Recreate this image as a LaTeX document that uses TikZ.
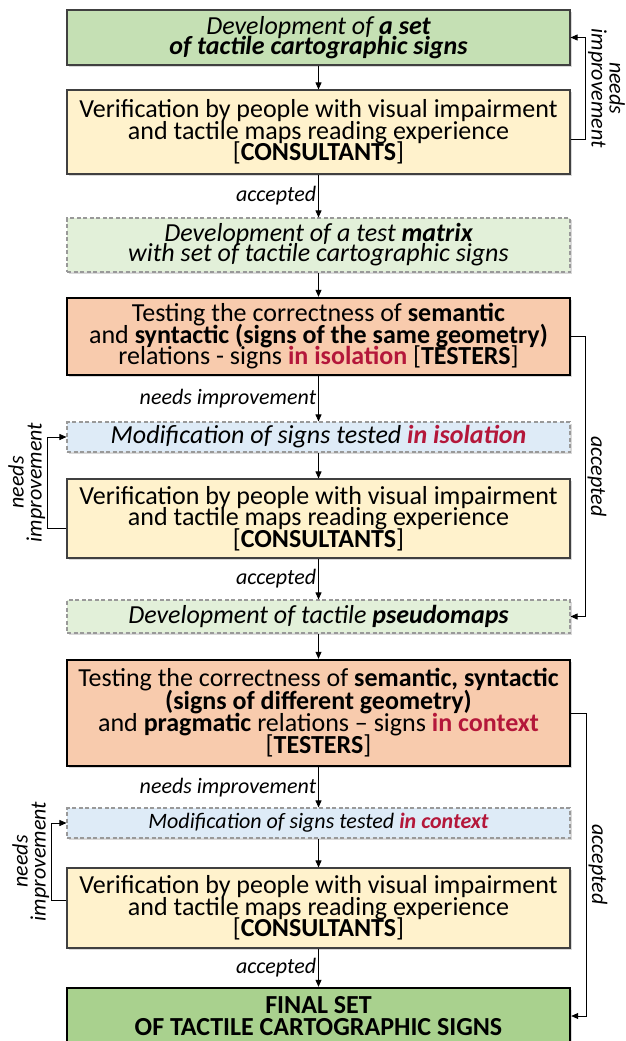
\documentclass[tikz,border=0pt]{standalone}
\usepackage{fontspec}
\setmainfont{Carlito}
\usetikzlibrary{positioning,arrows.meta,shadows}
\definecolor{devgreen}{HTML}{C5E0B4}
\definecolor{draftgreen}{HTML}{E2F0D9}
\definecolor{verifyellow}{HTML}{FFF2CC}
\definecolor{testsalmon}{HTML}{F8CBAD}
\definecolor{modblue}{HTML}{DEEBF7}
\definecolor{finalgreen}{HTML}{A9D18E}
\definecolor{crimson}{HTML}{B4173A}
% tight lines, as in the original slides
\newcommand{\fs}[2]{\fontsize{#1}{#2}\selectfont\lineskiplimit=-30pt}

\begin{document}
\begin{tikzpicture}[
    x=1pt, y=1pt,
    box/.style={minimum width=503pt, align=center, inner sep=1pt, drop shadow={shadow xshift=1.5pt, shadow yshift=-2pt, opacity=0.3}},
    plain/.style={box, draw=black!75, line width=1.1pt},
    draft/.style={box, draw=black!40, line width=1.1pt, dash pattern=on 4pt off 2.5pt},
    test/.style={box, draw=black, line width=2.4pt, fill=testsalmon},
    arr/.style={-{Triangle[length=7pt, width=6pt]}, line width=0.8pt},
    lbl/.style={font=\fs{22}{18}\itshape, inner sep=2pt}
  ]
    \useasboundingbox (0,0) rectangle (625,-1041);

    \node[plain, fill=devgreen, minimum height=55pt, font=\fs{26}{20}\itshape] (dev) at (318.5,-37.5)
      {Development of \textbf{a set}\\\textbf{of tactile cartographic signs}};
    \node[plain, fill=verifyellow, minimum height=84pt, font=\fs{26}{21.5}] (ver1) at (318.5,-132)
      {Verification by people with visual impairment\\and tactile maps reading experience\\{[}\textbf{CONSULTANTS}{]}};
    \node[draft, fill=draftgreen, minimum height=54pt, font=\fs{26}{20}\itshape] (mat) at (318.5,-245)
      {Development of a test \textbf{matrix}\\with set of tactile cartographic signs};
    \node[test, minimum height=77pt, font=\fs{26}{21.5}] (tst1) at (318.5,-336.5)
      {Testing the correctness of \textbf{semantic}\\and \textbf{syntactic (signs of the same geometry)}\\relations - signs \textcolor{crimson}{\textbf{in isolation}} {[}\textbf{TESTERS}{]}};
    \node[draft, fill=modblue, minimum height=30pt, font=\fs{26}{26}\itshape] (mod1) at (318.5,-437)
      {Modification of signs tested \textcolor{crimson}{\textbf{in isolation}}};
    \node[plain, fill=verifyellow, minimum height=79pt, font=\fs{26}{21.5}] (ver2) at (318.5,-518.5)
      {Verification by people with visual impairment\\and tactile maps reading experience\\{[}\textbf{CONSULTANTS}{]}};
    \node[draft, fill=draftgreen, minimum height=33pt, font=\fs{26}{26}\itshape] (pse) at (318.5,-616.5)
      {Development of tactile \textbf{pseudomaps}};
    \node[test, minimum height=106pt, font=\fs{26}{22.3}] (tst2) at (318.5,-713)
      {Testing the correctness of \textbf{semantic, syntactic}\\\textbf{(signs of different geometry)}\\and \textbf{pragmatic} relations -- signs \textcolor{crimson}{\textbf{in context}}\\{[}\textbf{TESTERS}{]}};
    \node[draft, fill=modblue, minimum height=30pt, font=\fs{22}{22}\itshape] (mod2) at (318.5,-823)
      {Modification of signs tested \textcolor{crimson}{\textbf{in context}}};
    \node[plain, fill=verifyellow, minimum height=80pt, font=\fs{26}{21.5}] (ver3) at (318.5,-908)
      {Verification by people with visual impairment\\and tactile maps reading experience\\{[}\textbf{CONSULTANTS}{]}};
    \node[test, fill=finalgreen, minimum height=56pt, font=\fs{26}{22}\bfseries] (fin) at (318.5,-1016)
      {FINAL SET\\OF TACTILE CARTOGRAPHIC SIGNS};

    % main flow
    \draw[arr] (dev) -- (ver1);
    \draw[arr] (ver1) -- node[lbl, left] {accepted} (mat);
    \draw[arr] (mat) -- (tst1);
    \draw[arr] (tst1) -- node[lbl, left] {needs improvement} (mod1);
    \draw[arr] (mod1) -- (ver2);
    \draw[arr] (ver2) -- node[lbl, left] {accepted} (pse);
    \draw[arr] (pse) -- (tst2);
    \draw[arr] (tst2) -- node[lbl, left] {needs improvement} (mod2);
    \draw[arr] (mod2) -- (ver3);
    \draw[arr] (ver3) -- node[lbl, left] {accepted} (fin);

    % loops back and skips
    \draw[arr] ([yshift=-7pt]ver1.east) -- ++(15,0) |- node[lbl, pos=0.25, rotate=-90, anchor=south, align=center] {needs\\improvement} (dev.east);
    \draw[arr] (tst1.east) -- ++(14,0) |- node[lbl, pos=0.25, rotate=-90, anchor=south] {accepted} (pse.east);
    \draw[arr] ([yshift=-9.5pt]ver2.west) -- ++(-19,0) |- node[lbl, pos=0.25, rotate=90, anchor=south, align=center] {needs\\improvement} (mod1.west);
    \draw[arr] (tst2.east) -- ++(15,0) |- node[lbl, pos=0.25, rotate=-90, anchor=south] {accepted} (fin.east);
    \draw[arr] ([yshift=8pt]ver3.west) -- ++(-15,0) |- node[lbl, pos=0.25, rotate=90, anchor=south, align=center] {needs\\improvement} (mod2.west);
  \end{tikzpicture}
\end{document}
